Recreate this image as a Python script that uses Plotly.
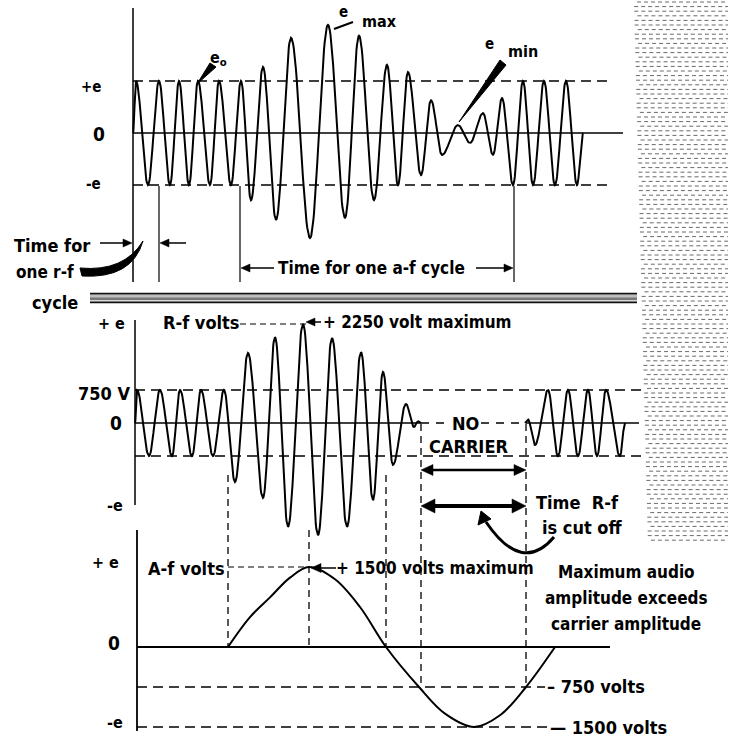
import numpy as np
import plotly.graph_objects as go

W, H = 730, 737

# ---------------- data ----------------
# Top panel: modulated r-f wave; extrema positions (time, px units) and amplitude (units of e)
top_t = [133, 136, 148, 159, 170, 179, 189, 198, 210, 219, 231, 241,
         251, 263, 276, 291, 310, 328, 345, 359, 374, 387,
         398, 408, 421, 431, 442, 458, 470, 483, 493, 502,
         513, 523, 533, 544, 555, 566, 577, 583]
top_v = [0, 1, -1, 1, -1, 1, -1, 1, -1, 1, -1, 1,
         -1.29, 1.27, -1.67, 1.83, -2.02, 2.08, -1.63, 1.87, -1.29, 1.31,
         -1.0, 1.17, -0.81, 0.63, -0.42, 0.15, -0.19, 0.38, -0.42, 0.67,
         -1, 1, -1, 1, -1, 1, -1, 0]
top_levels = [1, 0, -1]
top_level_labels = ["+e", "0", "-e"]

# Middle panel: over-modulated r-f wave (volts)
mid_t = [135, 137, 149, 160, 172, 180, 192, 201, 213, 224,
         235, 248, 263, 275, 288, 303, 318, 332, 347, 361,
         373, 383, 393, 406, 414, 418, 421]
mid_v = [0, 750, -750, 750, -750, 750, -750, 750, -750, 750,
         -1340, 1590, -1700, 1950, -2360, 2250, -2550, 1930, -2360, 1610,
         -1750, 1160, -950, 430, -90, 40, 0]
mid2_t = [525, 528, 535, 548, 558, 568, 578, 588, 597, 606, 620, 625]
mid2_v = [0, 80, -500, 750, -750, 750, -750, 750, -750, 750, -750, 0]
carrier_v = 750
rf_max_v = 2250

# Bottom panel: audio (a-f) wave, volts
af_t = [228, 250, 270, 290, 309, 335, 360, 386, 419, 445, 474, 500, 526, 555]
af_v = [0, 560, 930, 1300, 1500, 1270, 750, 0, -750, -1250, -1500, -1280, -750, 0]
af_max_v = 1500

# ---------------- helpers ----------------
def wave(t, v, n=28):
    xs, ys = [], []
    for i in range(len(t) - 1):
        s = np.linspace(0, 1, n)
        if i > 0:
            s = s[1:]
        xs.extend(t[i] + s * (t[i + 1] - t[i]))
        ys.extend((v[i] + v[i + 1]) / 2 + (v[i] - v[i + 1]) / 2 * np.cos(np.pi * s))
    return xs, ys

def yrange(zero_px, px_per_unit):
    return [(zero_px - H) / px_per_unit, zero_px / px_per_unit]

FONT = "Liberation Sans Narrow, DejaVu Sans Condensed, Arial Narrow, sans-serif"
BLK = "black"

fig = go.Figure()

def line(x, y, axis, width=1.5, dash=None, color=BLK, shape="linear"):
    fig.add_trace(go.Scatter(x=x, y=y, yaxis=axis, mode="lines", hoverinfo="skip",
                             line=dict(color=color, width=width, dash=dash, shape=shape),
                             showlegend=False))

# ---- top panel ----
line([133, 607], [top_levels[0]] * 2, "y", 1.3, "10px,6px")
line([133, 623], [top_levels[1]] * 2, "y", 1.5)
line([133, 607], [top_levels[2]] * 2, "y", 1.3, "10px,6px")
x, y = wave(top_t, top_v)
line(x, y, "y", 2.0)

# ---- middle panel ----
line([135, 646], [carrier_v] * 2, "y2", 1.3, "10px,6px")
line([135, 646], [-carrier_v] * 2, "y2", 1.3, "10px,6px")
line([135, 421], [0, 0], "y2", 1.5)
line([421, 526], [0, 0], "y2", 1.3, "8px,7px")
line([526, 639], [0, 0], "y2", 1.5)
line([240, 306], [rf_max_v] * 2, "y2", 1.2, "6px,4px")
x, y = wave(mid_t, mid_v)
line(x, y, "y2", 2.0)
x, y = wave(mid2_t, mid2_v)
line(x, y, "y2", 2.0)

# ---- bottom panel ----
line([137, 610], [0, 0], "y3", 1.8)
line([137, 545], [-af_max_v / 2] * 2, "y3", 1.3, "10px,6px")
line([137, 552], [-af_max_v] * 2, "y3", 1.3, "10px,6px")
line([228, 306], [af_max_v] * 2, "y3", 1.2, "6px,4px")
line(af_t, af_v, "y3", 2.0, shape="spline")

# ---- decorations in pixel space (y4) ----
line([133, 133], [8, 282], "y4", 1.5)
line([135, 135], [320, 505], "y4", 1.5)
line([137, 137], [530, 731], "y4", 1.8)
for xv in (159, 240, 514):
    line([xv, xv], [186, 282], "y4", 1.2)
for xv, y0, y1 in ((228, 475, 648), (309, 530, 648), (386, 475, 648), (421, 424, 686), (526, 424, 686)):
    line([xv, xv], [y0, y1], "y4", 1.3, "7px,5px")

# right hatched strip
sx, sy = [], []
for k, yy in enumerate(np.arange(2, 544, 4.6)):
    left = 634 + (yy / 544) * 14 + (3 if k % 3 == 0 else 0)
    sx += [left, 728, None]
    sy += [yy, yy, None]
line(sx, sy, "y4", 1.0, "4px,3px", color="#6a6a6a")

shapes = []
shapes.append(dict(type="rect", xref="x", yref="y4", x0=90, x1=637, y0=293, y1=303,
                   fillcolor="#9c9c9c", line=dict(width=0)))
for yy, c, w in ((293.5, "#111", 1.5), (302.5, "#111", 1.5), (296, "#e0e0e0", 1), (299, "#555", 1), (300.5, "#d8d8d8", 1)):
    shapes.append(dict(type="line", xref="x", yref="y4", x0=90, x1=637, y0=yy, y1=yy,
                       line=dict(color=c, width=w)))
shapes.append(dict(type="path", xref="x", yref="y4",
                   path="M 80,268 Q 124,272 143,241 Q 132,279 82,276 Z",
                   fillcolor=BLK, line=dict(color=BLK, width=1)))
shapes.append(dict(type="path", xref="x", yref="y4",
                   path="M 197,84 L 210,63 L 216,67 Z", fillcolor=BLK, line=dict(color=BLK, width=1)))
shapes.append(dict(type="line", xref="x", yref="y4", x0=334, y0=29, x1=353, y1=22,
                   line=dict(color=BLK, width=2)))
shapes.append(dict(type="path", xref="x", yref="y4",
                   path="M 459,122 L 500,60 L 506,65 Z", fillcolor=BLK, line=dict(color=BLK, width=1)))
shapes.append(dict(type="path", xref="x", yref="y4",
                   path="M 554,537 Q 522,575 486,522", line=dict(color=BLK, width=3)))
shapes.append(dict(type="path", xref="x", yref="y4",
                   path="M 481,511 L 478,525 L 491,519 Z", fillcolor=BLK, line=dict(color=BLK, width=1)))


def arrow(xh, yh, xt, yt, lw=1.5, L=9, hw=4, both=False):
    d = np.array([xh - xt, yh - yt], float)
    d /= np.linalg.norm(d)
    p = np.array([-d[1], d[0]])
    ends = [(np.array([xh, yh], float), d)]
    if both:
        ends.append((np.array([xt, yt], float), -d))
    a = np.array([xt, yt], float) + (-d * (-L) if both else 0)
    b = np.array([xh, yh], float) - d * L * 0.8
    if both:
        a = np.array([xt, yt], float) + d * L * 0.8
    shapes.append(dict(type="line", xref="x", yref="y4", x0=a[0], y0=a[1], x1=b[0], y1=b[1],
                       line=dict(color=BLK, width=lw)))
    for tip, dd in ends:
        base = tip - dd * L
        p1 = base + p * hw
        p2 = base - p * hw
        shapes.append(dict(type="path", xref="x", yref="y4",
                           path=f"M {tip[0]},{tip[1]} L {p1[0]},{p1[1]} L {p2[0]},{p2[1]} Z",
                           fillcolor=BLK, line=dict(color=BLK, width=0.5)))


annots = []

def txt(x, y, s, size=17, anchor="left", bold=True, bg=None):
    d = dict(x=x, y=y, xref="x", yref="y4", text=f"<b>{s}</b>" if bold else s,
             showarrow=False, xanchor=anchor, yanchor="middle",
             font=dict(family=FONT, size=size, color=BLK))
    if bg:
        d["bgcolor"] = bg
    annots.append(d)

# top panel labels
txt(103, 87, top_level_labels[0], 15, "right")
txt(107, 134, top_level_labels[1], 19, "right")
txt(103, 184, top_level_labels[2], 15, "right")
txt(343, 12, "e", 15, "center")
txt(360, 21, "max", 16)
txt(489, 44, "e", 15, "center")
txt(506, 51, "min", 16)
txt(218, 58, "e<sub>o</sub>", 16, "center")
txt(12, 245, "Time for", 18)
txt(14, 272, "one r-f", 17)
txt(30, 302, "cycle", 18)
arrow(132, 243, 100, 243, 1.5, 9, 4)
arrow(160, 243, 186, 243, 1.5, 9, 4)
txt(276, 268, "Time for one a-f cycle", 17)
arrow(241, 268, 274, 268, 1.5, 9, 4)
arrow(513, 268, 476, 268, 1.5, 9, 4)

# middle panel labels
txt(127, 323, "+ e", 16, "right")
txt(132, 393, "750 V", 18, "right")
txt(124, 423, "0", 19, "right")
txt(125, 505, "-e", 16, "right")
txt(161, 322, "R-f volts", 18)
arrow(306, 322, 321, 322, 1.5, 9, 4)
txt(321, 322, "+ 2250 volt maximum", 17)
txt(465, 423, "NO", 18, "center", bg="white")
txt(468, 446, "CARRIER", 18, "center")
arrow(526, 470, 421, 470, 2.5, 12, 5.5, both=True)
arrow(526, 506, 421, 506, 4, 14, 7, both=True)
txt(534, 502, "Time  R-f", 18)
txt(540, 527, "is cut off", 18)

# bottom panel labels
txt(121, 562, "+ e", 16, "right")
txt(122, 643, "0", 19, "right")
txt(125, 722, "-e", 16, "right")
txt(146, 568, "A-f volts", 18)
arrow(311, 568, 336, 568, 1.5, 10, 4.5)
txt(334, 568, "+ 1500 volts maximum", 17)
txt(626, 572, "Maximum audio", 17, "center")
txt(626, 598, "amplitude exceeds", 17, "center")
txt(626, 624, "carrier amplitude", 17, "center")
txt(545, 686, "– 750 volts", 18)
txt(548, 727, "— 1500 volts", 18)

fig.update_layout(
    width=W, height=H, margin=dict(l=0, r=0, t=0, b=0),
    paper_bgcolor="white", plot_bgcolor="white", showlegend=False,
    xaxis=dict(range=[0, W], visible=False, domain=[0, 1], fixedrange=True),
    yaxis=dict(range=yrange(133, 52), visible=False, domain=[0, 1]),
    yaxis2=dict(range=yrange(423, 33 / 750), visible=False, overlaying="y", domain=[0, 1]),
    yaxis3=dict(range=yrange(647, 80 / 1500), visible=False, overlaying="y", domain=[0, 1]),
    yaxis4=dict(range=[H, 0], visible=False, overlaying="y", domain=[0, 1]),
    shapes=shapes, annotations=annots,
)
fig.write_html("out.html", config={"displayModeBar": False},
               post_script="document.body.style.margin='0';document.body.style.overflow='hidden';")
